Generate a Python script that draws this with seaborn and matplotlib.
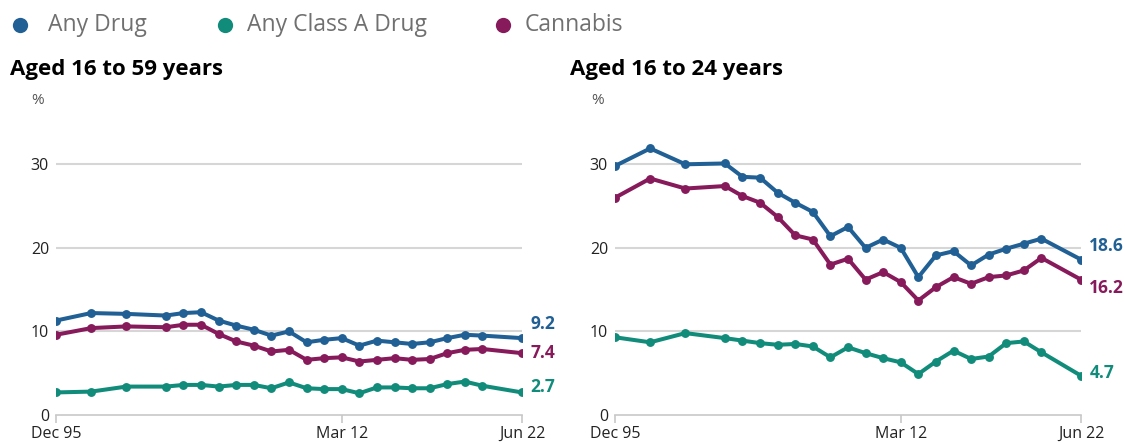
import matplotlib
matplotlib.use("Agg")
import matplotlib.pyplot as plt
from matplotlib.lines import Line2D
import seaborn as sns
import pandas as pd

# ---------------- data ----------------
periods = ["Dec 95", "Dec 97", "Dec 99", "Mar 02", "Mar 03", "Mar 04", "Mar 05",
           "Mar 06", "Mar 07", "Mar 08", "Mar 09", "Mar 10", "Mar 11", "Mar 12",
           "Mar 13", "Mar 14", "Mar 15", "Mar 16", "Mar 17", "Mar 18", "Mar 19",
           "Mar 20", "Jun 22"]
series_names = ["Any Drug", "Any Class A Drug", "Cannabis"]

any_drug_16_59 = [11.3, 12.2, 12.1, 11.9, 12.2, 12.3, 11.3, 10.7, 10.2, 9.5, 10.0, 8.7,
                  9.0, 9.2, 8.3, 8.9, 8.7, 8.5, 8.7, 9.2, 9.6, 9.5, 9.2]
class_a_16_59 = [2.7, 2.8, 3.4, 3.4, 3.6, 3.6, 3.4, 3.6, 3.6, 3.2, 3.9, 3.2,
                 3.1, 3.1, 2.6, 3.3, 3.3, 3.2, 3.2, 3.7, 4.0, 3.5, 2.7]
cannabis_16_59 = [9.6, 10.4, 10.6, 10.5, 10.8, 10.8, 9.7, 8.8, 8.3, 7.6, 7.8, 6.6,
                  6.8, 6.9, 6.4, 6.6, 6.8, 6.6, 6.7, 7.4, 7.8, 7.9, 7.4]

any_drug_16_24 = [29.8, 31.9, 30.0, 30.1, 28.5, 28.4, 26.6, 25.4, 24.3, 21.4, 22.5, 20.0,
                  21.0, 20.0, 16.5, 19.1, 19.6, 17.9, 19.2, 19.9, 20.5, 21.1, 18.6]
class_a_16_24 = [9.3, 8.7, 9.8, 9.2, 8.9, 8.6, 8.4, 8.5, 8.2, 6.9, 8.1, 7.4,
                 6.8, 6.3, 4.9, 6.4, 7.7, 6.7, 7.0, 8.6, 8.8, 7.5, 4.7]
cannabis_16_24 = [26.0, 28.3, 27.1, 27.4, 26.2, 25.4, 23.7, 21.5, 21.0, 18.0, 18.7, 16.2,
                  17.1, 15.9, 13.7, 15.3, 16.5, 15.7, 16.5, 16.7, 17.3, 18.8, 16.2]

panel_titles = ["Aged 16 to 59 years", "Aged 16 to 24 years"]
x_tick_labels = ["Dec 95", "Mar 12", "Jun 22"]
y_ticks = [0, 10, 20, 30]

colors = {"Any Drug": "#206095", "Any Class A Drug": "#118C7B", "Cannabis": "#871A5B"}

MONTHS = {"Jan": 1, "Feb": 2, "Mar": 3, "Apr": 4, "May": 5, "Jun": 6,
          "Jul": 7, "Aug": 8, "Sep": 9, "Oct": 10, "Nov": 11, "Dec": 12}


def to_year(label):
    m, y = label.split()
    y = int(y)
    y = 1900 + y if y > 50 else 2000 + y
    return y + (MONTHS[m] - 1) / 12.0


def panel_df(any_drug, class_a, cannabis):
    rows = []
    for name, vals in zip(series_names, [any_drug, class_a, cannabis]):
        for p, v in zip(periods, vals):
            rows.append({"x": to_year(p), "value": v, "series": name})
    return pd.DataFrame(rows)


panels = [panel_df(any_drug_16_59, class_a_16_59, cannabis_16_59),
          panel_df(any_drug_16_24, class_a_16_24, cannabis_16_24)]

# end-label vertical offsets (points) to avoid overlap
label_offsets = [
    {"Any Drug": 10, "Any Class A Drug": 4, "Cannabis": 0},
    {"Any Drug": 10, "Any Class A Drug": 2, "Cannabis": -6},
]

# ---------------- style ----------------
sns.set_theme(style="white")
plt.rcParams["font.family"] = ["Open Sans", "DejaVu Sans"]

W, H = 1125, 443
fig = plt.figure(figsize=(W / 100, H / 100), dpi=100)


def px(x0, y0, x1, y1):
    return [x0 / W, 1 - y1 / H, (x1 - x0) / W, (y1 - y0) / H]


YMAX = 33
y0_px, y30_px = 415, 164.3
top_px = y0_px - (y0_px - y30_px) / 30 * YMAX
axes_pos = [px(56, top_px, 522, y0_px), px(615, top_px, 1081, y0_px)]
title_x = [10, 570]
pct_x = [38, 598]

for i, df in enumerate(panels):
    ax = fig.add_axes(axes_pos[i])
    sns.lineplot(data=df, x="x", y="value", hue="series", palette=colors,
                 hue_order=series_names, marker="o", markersize=6.4,
                 markeredgewidth=0, linewidth=2.9, legend=False, ax=ax,
                 zorder=3)
    xmin, xmax = to_year(periods[0]), to_year(periods[-1])
    ax.set_xlim(xmin, xmax)
    ax.set_ylim(0, YMAX)
    ax.set_xticks([to_year(t) for t in x_tick_labels])
    ax.set_xticklabels(x_tick_labels)
    ax.set_yticks(y_ticks)
    ax.set_yticklabels([str(t) for t in y_ticks])
    ax.set_xlabel("")
    ax.set_ylabel("")
    for s in ["top", "right", "left"]:
        ax.spines[s].set_visible(False)
    ax.spines["bottom"].set_color("#c8c8c8")
    ax.spines["bottom"].set_linewidth(1.2)
    ax.grid(False)
    for t in y_ticks[1:]:
        ax.axhline(t, color="#d6d6d6", linewidth=1.5, zorder=1)
    ax.tick_params(axis="x", length=6, width=1.2, color="#c8c8c8",
                   labelsize=11.5, labelcolor="#222222", pad=2, bottom=True)
    ax.tick_params(axis="y", length=0, labelsize=11.5, labelcolor="#222222", pad=5)
    ax.patch.set_alpha(0)

    # end labels
    for name in series_names:
        sub = df[df["series"] == name]
        lx, ly = sub["x"].iloc[-1], sub["value"].iloc[-1]
        ax.annotate(f"{ly:.1f}", xy=(lx, ly), xytext=(6, label_offsets[i][name]),
                    textcoords="offset points", ha="left", va="center",
                    fontsize=12.5, fontweight="bold", color=colors[name],
                    annotation_clip=False)

    fig.text(title_x[i] / W, 1 - 70 / H, panel_titles[i], fontsize=16,
             fontweight="bold", color="#000000", ha="left", va="center")
    fig.text(pct_x[i] / W, 1 - 100 / H, "%", fontsize=11, color="#555555",
             ha="center", va="center")

# legend
leg_circle_x = [20, 225, 503]
leg_text_x = [48, 247, 525]
for name, cx, tx in zip(series_names, leg_circle_x, leg_text_x):
    fig.add_artist(Line2D([cx / W], [1 - 25 / H], marker="o", markersize=11,
                          markeredgewidth=0, color=colors[name], linestyle="",
                          transform=fig.transFigure))
    fig.text(tx / W, 1 - 25 / H, name, fontsize=16.5, color="#707070",
             ha="left", va="center")

fig.savefig("out.png", dpi=100)
